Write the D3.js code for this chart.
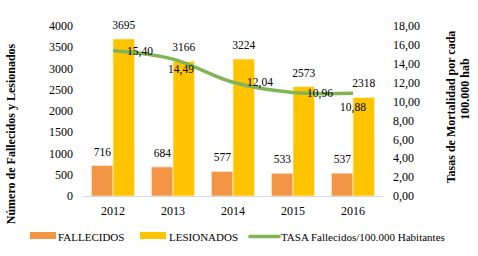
<!DOCTYPE html>
<html>
<head>
<meta charset="utf-8">
<script src="https://cdn.jsdelivr.net/npm/d3@7"></script>
<style>
  body { margin: 0; background: #fff; }
</style>
</head>
<body>
<div id="chart"></div>
<script>
const years = ["2012", "2013", "2014", "2015", "2016"];
const fallecidos = [716, 684, 577, 533, 537];
const lesionados = [3695, 3166, 3224, 2573, 2318];
const tasa = [15.40, 14.49, 12.04, 10.96, 10.88];
const leftTicks = [0, 500, 1000, 1500, 2000, 2500, 3000, 3500, 4000];
const rightTicks = [0, 2, 4, 6, 8, 10, 12, 14, 16, 18];

// label placement for the rate labels (offset from the point)
const rateLabelDx = [14, -5, 14, 14, -13];
const rateLabelDy = [0, 10, 0, 0, 14];

const W = 478, H = 256;
const plot = { left: 83, right: 383, top: 26, bottom: 196 };
const serif = "'Liberation Serif', 'Times New Roman', Tinos, 'DejaVu Serif', serif";

const svg = d3.select("#chart").append("svg")
  .attr("width", W).attr("height", H)
  .attr("font-family", serif)
  .style("font-family", serif);

const x = d3.scaleBand().domain(years).range([plot.left, plot.right]);
const xSub = d3.scaleBand().domain(["f", "l"]).range([8.5, 51.5]);
const yL = d3.scaleLinear().domain([0, 4000]).range([plot.bottom, plot.top]);
const yR = d3.scaleLinear().domain([0, 18]).range([plot.bottom, plot.top]);

const fmt = d3.format(".2f");
const comma = v => fmt(v).replace(".", ",");

// left axis labels
svg.append("g").selectAll("text").data(leftTicks).join("text")
  .attr("x", 73).attr("y", d => yL(d)).attr("dy", "0.35em")
  .attr("text-anchor", "end").style("font-size", "12px")
  .text(d => d);

// right axis labels
svg.append("g").selectAll("text").data(rightTicks).join("text")
  .attr("x", 393).attr("y", d => yR(d)).attr("dy", "0.35em")
  .style("font-size", "12px")
  .text(d => comma(d));

// category labels
svg.append("g").selectAll("text").data(years).join("text")
  .attr("x", d => x(d) + x.bandwidth() / 2).attr("y", 215)
  .attr("text-anchor", "middle").style("font-size", "12px")
  .text(d => d);

// bars
const g = svg.append("g").selectAll("g").data(years).join("g")
  .attr("transform", d => `translate(${x(d)},0)`);

g.append("rect")
  .attr("x", xSub("f")).attr("width", xSub.bandwidth())
  .attr("y", (d, i) => yL(fallecidos[i]))
  .attr("height", (d, i) => plot.bottom - yL(fallecidos[i]))
  .attr("fill", "#f29544").attr("stroke", "#fbe0cf").attr("stroke-width", 0.8);

g.append("rect")
  .attr("x", xSub("l")).attr("width", xSub.bandwidth())
  .attr("y", (d, i) => yL(lesionados[i]))
  .attr("height", (d, i) => plot.bottom - yL(lesionados[i]))
  .attr("fill", "#ffc400").attr("stroke", "#fff0c0").attr("stroke-width", 0.8);

g.append("text")
  .attr("x", xSub("f") + xSub.bandwidth() / 2)
  .attr("y", (d, i) => yL(fallecidos[i]) - 10)
  .attr("text-anchor", "middle").style("font-size", "11.5px")
  .text((d, i) => fallecidos[i]);

g.append("text")
  .attr("x", xSub("l") + xSub.bandwidth() / 2)
  .attr("y", (d, i) => yL(lesionados[i]) - 10)
  .attr("text-anchor", "middle").style("font-size", "11.5px")
  .text((d, i) => lesionados[i]);

// baseline
svg.append("line")
  .attr("x1", plot.left).attr("x2", plot.right)
  .attr("y1", plot.bottom + 0.5).attr("y2", plot.bottom + 0.5)
  .attr("stroke", "#d9d9d9").attr("stroke-width", 1);

// rate line
const cx = i => x(years[i]) + x.bandwidth() / 2;
const line = d3.line()
  .x((d, i) => cx(i))
  .y(d => yR(d))
  .curve(d3.curveCatmullRom);

svg.append("path")
  .datum(tasa)
  .attr("d", line)
  .attr("fill", "none")
  .attr("stroke", "#80b454")
  .attr("stroke-width", 3.5);

svg.append("g").selectAll("text").data(tasa).join("text")
  .attr("x", (d, i) => cx(i) + rateLabelDx[i])
  .attr("y", (d, i) => yR(d) + rateLabelDy[i])
  .attr("dy", "0.35em").style("font-size", "11.5px")
  .text(d => comma(d));

// axis titles
svg.append("text")
  .attr("transform", "translate(15,134) rotate(-90)")
  .attr("text-anchor", "middle")
  .style("font-size", "12px").style("font-weight", "bold")
  .text("Número de Fallecidos y Lesionados");

svg.append("text")
  .attr("transform", "translate(455,107) rotate(-90)")
  .attr("text-anchor", "middle")
  .style("font-size", "12px").style("font-weight", "bold")
  .text("Tasas de Mortalidad por cada");

svg.append("text")
  .attr("transform", "translate(469,89) rotate(-90)")
  .attr("text-anchor", "middle")
  .style("font-size", "12px").style("font-weight", "bold")
  .text("100.000 hab");

// legend
const legend = svg.append("g");
legend.append("rect").attr("x", 30).attr("y", 232).attr("width", 26).attr("height", 7).attr("fill", "#f29544");
legend.append("text").attr("x", 58).attr("y", 241).style("font-size", "11px").text("FALLECIDOS");
legend.append("rect").attr("x", 140).attr("y", 232).attr("width", 26).attr("height", 7).attr("fill", "#ffc400");
legend.append("text").attr("x", 169).attr("y", 241).style("font-size", "11px").text("LESIONADOS");
legend.append("line").attr("x1", 250).attr("x2", 279).attr("y1", 236.5).attr("y2", 236.5)
  .attr("stroke", "#80b454").attr("stroke-width", 3.5).attr("stroke-linecap", "round");
legend.append("text").attr("x", 281).attr("y", 241).style("font-size", "11px").text("TASA Fallecidos/100.000 Habitantes");
</script>
</body>
</html>
